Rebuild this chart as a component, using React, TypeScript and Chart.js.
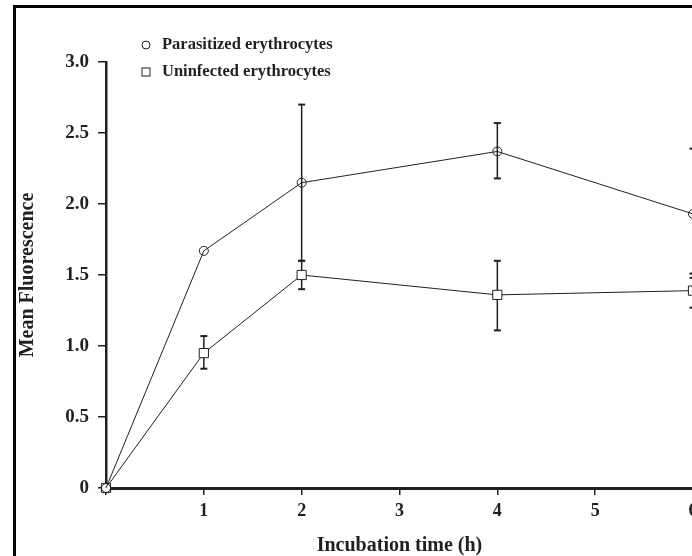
import React, { useEffect, useRef } from 'react';
import { Chart, registerables } from 'chart.js';

Chart.register(...registerables);

// ---- data ----
const hours = [0, 1, 2, 4, 6];
const parasitized = [0, 1.67, 2.15, 2.37, 1.93];
const parasitizedHigh = [null, null, 2.70, 2.57, 2.39];
const parasitizedLow = [null, null, 1.60, 2.18, 1.51];
const uninfected = [0, 0.95, 1.50, 1.36, 1.39];
const uninfectedHigh = [null, 1.07, 1.60, 1.60, 1.48];
const uninfectedLow = [null, 0.84, 1.40, 1.11, 1.27];
const xTickLabels = ['', '1', '2', '3', '4', '5', '6'];
const yTickLabels = ['0', '0.5', '1.0', '1.5', '2.0', '2.5', '3.0'];
const legendLabels = ['Parasitized erythrocytes', 'Uninfected erythrocytes'];
const xTitle = 'Incubation time (h)';
const yTitle = 'Mean Fluorescence';

const INK = '#231f20';
const FONT = "'Liberation Serif', 'Times New Roman', serif";

const errorBarPlugin = {
  id: 'errorBars',
  beforeDatasetsDraw(chart: any) {
    const { ctx, scales } = chart;
    const x = scales.x;
    const y = scales.y;
    const sets = [
      [parasitizedHigh, parasitizedLow],
      [uninfectedHigh, uninfectedLow],
    ];
    ctx.save();
    ctx.strokeStyle = INK;
    const seg = (x1: number, y1: number, x2: number, y2: number) => {
      ctx.beginPath();
      ctx.moveTo(x1, y1);
      ctx.lineTo(x2, y2);
      ctx.stroke();
    };
    sets.forEach(([hi, lo]) => {
      hours.forEach((h, i) => {
        const a = hi[i];
        const b = lo[i];
        if (a == null || b == null) return;
        const px = x.getPixelForValue(h);
        const top = y.getPixelForValue(a);
        const bot = y.getPixelForValue(b);
        ctx.lineWidth = 1.5;
        seg(px, top, px, bot);
        ctx.lineWidth = 2;
        seg(px - 3.5, top, px + 3.5, top);
        seg(px - 3.5, bot, px + 3.5, bot);
      });
    });
    ctx.restore();
  },
};

const legendPlugin = {
  id: 'customLegend',
  afterDraw(chart: any) {
    const { ctx } = chart;
    ctx.save();
    ctx.strokeStyle = INK;
    ctx.fillStyle = INK;
    ctx.lineWidth = 1;
    // circle marker
    ctx.beginPath();
    ctx.arc(146, 45, 4, 0, Math.PI * 2);
    ctx.stroke();
    // square marker
    ctx.strokeRect(142, 68, 8, 8);
    ctx.font = `bold 16.5px ${FONT}`;
    ctx.textBaseline = 'middle';
    ctx.textAlign = 'left';
    ctx.fillText(legendLabels[0], 162, 45);
    ctx.fillText(legendLabels[1], 162, 72);
    ctx.restore();
  },
};

export default function App() {
  const ref = useRef<HTMLCanvasElement>(null);

  useEffect(() => {
    if (!ref.current) return;
    const chart = new Chart(ref.current, {
      type: 'line',
      data: {
        datasets: [
          {
            label: legendLabels[0],
            data: hours.map((h, i) => ({ x: h, y: parasitized[i] })),
            borderColor: INK,
            borderWidth: 1,
            pointStyle: 'circle',
            pointRadius: 4.5,
            pointBorderWidth: 1,
            pointBorderColor: INK,
            pointBackgroundColor: 'rgba(0,0,0,0)',
            clip: false,
            tension: 0,
            order: 1,
          },
          {
            label: legendLabels[1],
            data: hours.map((h, i) => ({ x: h, y: uninfected[i] })),
            borderColor: INK,
            borderWidth: 1,
            pointStyle: 'rect',
            pointRadius: 6.5,
            pointBorderWidth: 1,
            pointBorderColor: INK,
            pointBackgroundColor: '#ffffff',
            clip: false,
            tension: 0,
            order: 2,
          },
        ],
      },
      options: {
        animation: false,
        responsive: false,
        devicePixelRatio: 1,
        layout: { padding: { top: 62, left: 0, right: 27, bottom: 0 } },
        plugins: {
          legend: { display: false },
          tooltip: { enabled: false },
        },
        scales: {
          x: {
            type: 'linear',
            min: 0,
            max: 6,
            z: 1,
            afterFit: (s: any) => {
              s.height = 82;
            },
            border: { display: true, color: INK, width: 3 },
            grid: {
              drawOnChartArea: false,
              drawTicks: true,
              tickLength: 7,
              color: INK,
              lineWidth: 1.5,
            },
            ticks: {
              stepSize: 1,
              padding: 6,
              color: INK,
              font: { family: FONT, size: 18, weight: 'bold' },
              callback: (_v: any, i: number) => xTickLabels[i],
            },
            title: {
              display: true,
              text: xTitle,
              color: INK,
              font: { family: FONT, size: 20, weight: 'bold' },
              padding: { top: 0, bottom: 12 },
            },
          },
          y: {
            type: 'linear',
            min: 0,
            max: 3,
            z: 1,
            afterFit: (s: any) => {
              s.width = 106;
            },
            border: { display: true, color: INK, width: 2.5 },
            grid: {
              drawOnChartArea: false,
              drawTicks: true,
              tickLength: 8,
              color: INK,
              lineWidth: 1.5,
            },
            ticks: {
              stepSize: 0.5,
              padding: 9,
              color: INK,
              font: { family: FONT, size: 19, weight: 'bold' },
              callback: (_v: any, i: number) => yTickLabels[i],
            },
            title: {
              display: true,
              text: yTitle,
              color: INK,
              font: { family: FONT, size: 20, weight: 'bold' },
              padding: { top: 16, bottom: 0 },
            },
          },
        },
      },
      plugins: [errorBarPlugin, legendPlugin],
    } as any);
    return () => chart.destroy();
  }, []);

  return (
    <div
      style={{
        position: 'fixed',
        left: 0,
        top: 0,
        width: 692,
        height: 556,
        overflow: 'hidden',
        background: '#fff',
      }}
    >
      <canvas
        ref={ref}
        width={720}
        height={570}
        style={{ position: 'absolute', left: 0, top: 0, width: 720, height: 570 }}
      />
      <div
        style={{
          position: 'absolute',
          left: 13,
          top: 5,
          width: 800,
          height: 700,
          borderTop: '3px solid #000',
          borderLeft: '3px solid #000',
          pointerEvents: 'none',
        }}
      />
    </div>
  );
}
